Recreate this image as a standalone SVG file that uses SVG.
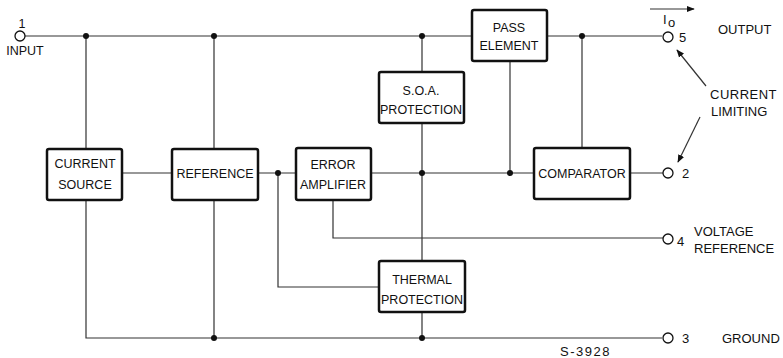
<svg xmlns="http://www.w3.org/2000/svg" width="783" height="358" viewBox="0 0 783 358">
<style>
.box{fill:#fff;stroke:#111;stroke-width:2.5}
.w{fill:none;stroke:#333;stroke-width:1.2}
.t{font-family:"Liberation Sans",Arial,sans-serif;font-size:12.5px;fill:#111;text-anchor:middle}
.l{font-family:"Liberation Sans",Arial,sans-serif;font-size:13px;fill:#111}
.d{fill:#111}
.pin{fill:#fff;stroke:#111;stroke-width:1.3}
</style>
<defs>
<marker id="ah" viewBox="0 0 10 10" refX="9" refY="5" markerWidth="8" markerHeight="8" orient="auto" markerUnits="userSpaceOnUse">
<path d="M0,1 L10,5 L0,9 Z" fill="#111"/>
</marker>
</defs>
<g id="connectors">
<path class="w" d="M25,36 H472 M547,36 H662"/>
<path class="w" d="M86,36 V149 M86,200 V338 H662"/>
<path class="w" d="M214,36 V149 M214,200 V338"/>
<path class="w" d="M122,173 H172 M258,173 H296"/>
<path class="w" d="M278,173 V287 H379"/>
<path class="w" d="M371,173 H534 M630,173 H663"/>
<path class="w" d="M422,36 V72 M422,123 V261 M422,312 V338"/>
<path class="w" d="M510,61 V173"/>
<path class="w" d="M582,36 V148"/>
<path class="w" d="M333,200 V238 H663"/>
<circle class="d" cx="86" cy="36" r="3"/>
<circle class="d" cx="214" cy="36" r="3"/>
<circle class="d" cx="422" cy="36" r="3"/>
<circle class="d" cx="582" cy="36" r="3"/>
<circle class="d" cx="278" cy="173" r="3"/>
<circle class="d" cx="422" cy="173" r="3"/>
<circle class="d" cx="510" cy="173" r="3"/>
<circle class="d" cx="214" cy="338" r="3"/>
<circle class="d" cx="422" cy="338" r="3"/>
<path class="w" d="M650,9 H694" stroke="#111" marker-end="url(#ah)"/>
<path class="w" d="M706,86 L677,50" stroke="#111" marker-end="url(#ah)"/>
<path class="w" d="M700,117 L678,162" stroke="#111" marker-end="url(#ah)"/>
</g>
<g id="pin1"><circle class="pin" cx="20" cy="36" r="5"/><text class="t" x="22" y="28">1</text><text class="t" x="25" y="55">INPUT</text></g>
<g id="pin5"><circle class="pin" cx="668" cy="37" r="5"/><text class="l" x="679" y="42">5</text><text class="l" x="663" y="24">I</text><text class="l" x="668" y="27" font-size="11">o</text><text class="l" x="718" y="34">OUTPUT</text></g>
<g id="pin2"><circle class="pin" cx="668" cy="173" r="5"/><text class="l" x="682" y="178">2</text></g>
<g id="pin4"><circle class="pin" cx="668" cy="239" r="5"/><text class="l" x="677" y="246">4</text><text class="l" x="694" y="236">VOLTAGE</text><text class="l" x="694" y="253">REFERENCE</text></g>
<g id="pin3"><circle class="pin" cx="668" cy="338" r="5"/><text class="l" x="682" y="343">3</text><text class="l" x="722" y="343">GROUND</text></g>
<g id="limit"><text class="l" x="710" y="99" letter-spacing="0.5">CURRENT</text><text class="l" x="711" y="116">LIMITING</text></g>
<g id="current_source"><rect class="box" x="47" y="149" width="75" height="51" rx="2"/><text class="t" x="85" y="168">CURRENT</text><text class="t" x="85" y="189">SOURCE</text></g>
<g id="reference"><rect class="box" x="172" y="149" width="86" height="51" rx="2"/><text class="t" x="215" y="178">REFERENCE</text></g>
<g id="error_amp"><rect class="box" x="296" y="148" width="75" height="52" rx="2"/><text class="t" x="333" y="169">ERROR</text><text class="t" x="333" y="189">AMPLIFIER</text></g>
<g id="soa"><rect class="box" x="379" y="72" width="85" height="51" rx="2"/><text class="t" x="421" y="95">S.O.A.</text><text class="t" x="421" y="114">PROTECTION</text></g>
<g id="pass"><rect class="box" x="472" y="10" width="75" height="51" rx="2"/><text class="t" x="509" y="32">PASS</text><text class="t" x="509" y="50">ELEMENT</text></g>
<g id="comparator"><rect class="box" x="534" y="148" width="96" height="51" rx="2"/><text class="t" x="582" y="178">COMPARATOR</text></g>
<g id="thermal"><rect class="box" x="379" y="261" width="86" height="51" rx="2"/><text class="t" x="422" y="284">THERMAL</text><text class="t" x="422" y="304">PROTECTION</text></g>
<text class="l" x="560" y="356" font-size="10" letter-spacing="1.5">S-3928</text>
</svg>
